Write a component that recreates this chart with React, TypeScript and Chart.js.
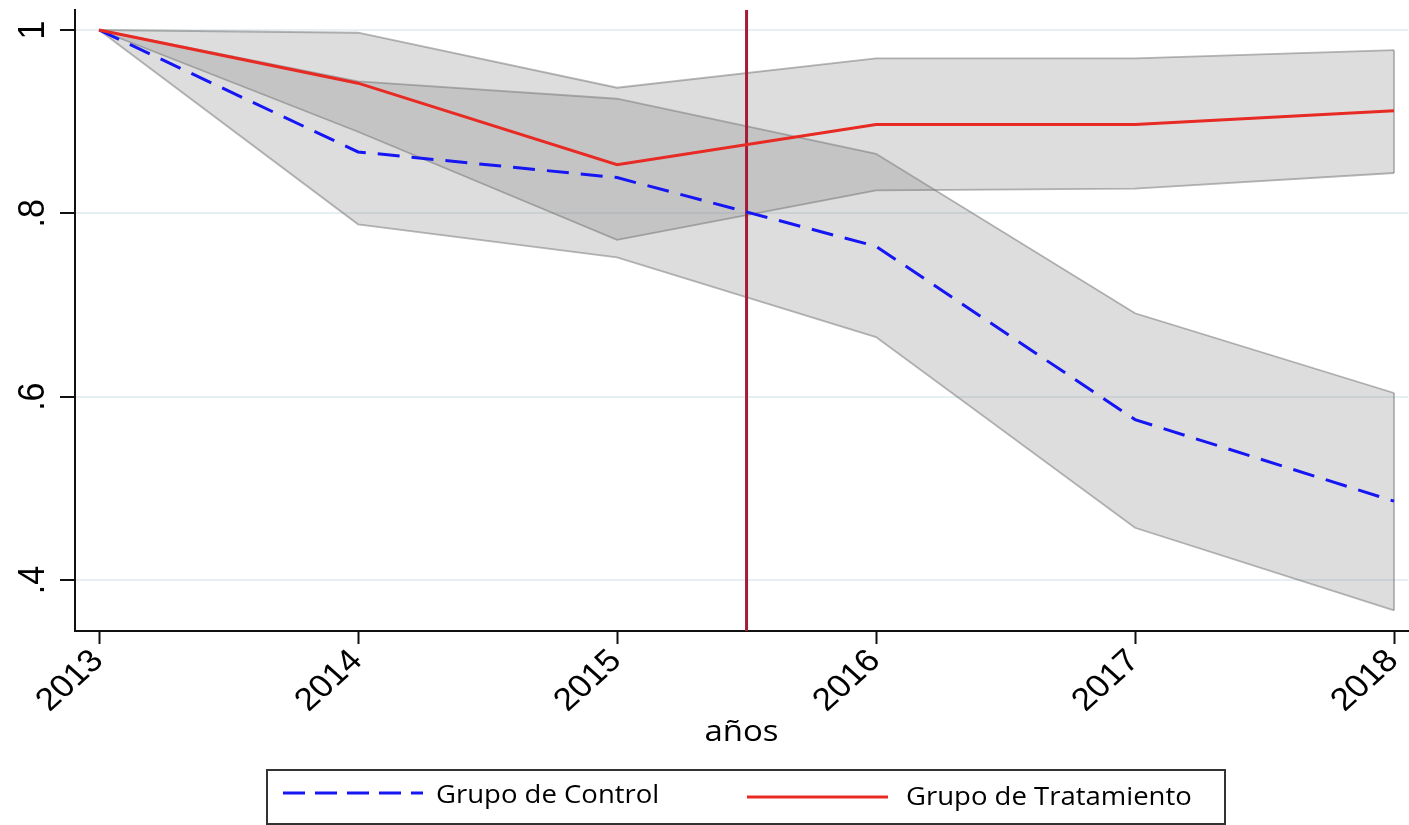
import React, { useEffect, useRef } from 'react';
import { Chart, registerables } from 'chart.js';

Chart.register(...registerables);

// ---- data ----
const years = [2013, 2014, 2015, 2016, 2017, 2018];
const controlMean = [1, 0.867, 0.839, 0.764, 0.575, 0.486];
const controlHi = [1, 0.944, 0.925, 0.865, 0.691, 0.604];
const controlLo = [1, 0.788, 0.752, 0.665, 0.457, 0.367];
const treatMean = [1, 0.942, 0.853, 0.897, 0.897, 0.912];
const treatHi = [1, 0.997, 0.937, 0.969, 0.969, 0.978];
const treatLo = [1, 0.889, 0.771, 0.825, 0.827, 0.844];
const interventionYear = 2015.5;
const yTickValues = [0.4, 0.6, 0.8, 1];
const yTickLabels = ['.4', '.6', '.8', '1'];
const xTickLabels = ['2013', '2014', '2015', '2016', '2017', '2018'];
const xTitle = 'años';
const legendLabels = ['Grupo de Control', 'Grupo de Tratamiento'];
const yRange = [0.3444, 1.0218];
const xRange = [2012.907, 2018.054];

const pts = (vals: number[]) => years.map((yr, i) => ({ x: yr, y: vals[i] }));

const BAND_FILL = 'rgba(128,128,128,0.27)';
const BAND_EDGE = 'rgba(110,110,110,0.5)';
const RED = 'rgb(232,42,36)';
const BLUE = 'rgb(22,22,245)';
const VLINE = 'rgb(165,28,58)';
const STRETCH = 1.1;

const textPlugin = {
  id: 'customText',
  afterDraw(chart: any) {
    const ctx = chart.ctx as CanvasRenderingContext2D;
    const xs = chart.scales.x;
    const ys = chart.scales.y;
    const area = chart.chartArea;
    ctx.save();
    ctx.fillStyle = '#000';

    // y tick labels (vertical)
    ctx.font = '34px "Liberation Sans", Arial, sans-serif';
    yTickValues.forEach((v, i) => {
      const py = ys.getPixelForValue(v);
      ctx.save();
      ctx.translate(31, py);
      ctx.scale(STRETCH, 1);
      ctx.rotate(-Math.PI / 2);
      ctx.textAlign = 'center';
      ctx.textBaseline = 'middle';
      ctx.fillText(yTickLabels[i], 0, 2);
      ctx.restore();
    });

    // x tick labels (45 degrees)
    ctx.font = '32px "Liberation Sans", Arial, sans-serif';
    years.forEach((yr, i) => {
      const px = xs.getPixelForValue(yr);
      ctx.save();
      ctx.translate(px - 1, area.bottom + 25);
      ctx.scale(STRETCH, 1);
      ctx.rotate(-Math.PI / 4);
      ctx.textAlign = 'right';
      ctx.textBaseline = 'middle';
      ctx.fillText(xTickLabels[i], 0, 0);
      ctx.restore();
    });

    // axis title
    ctx.font = '30px "Open Sans", sans-serif';
    ctx.save();
    ctx.translate((area.left + area.right) / 2, 741);
    ctx.scale(STRETCH, 1);
    ctx.textAlign = 'center';
    ctx.textBaseline = 'alphabetic';
    ctx.fillText(xTitle, 0, 0);
    ctx.restore();

    // legend box
    ctx.strokeStyle = '#333';
    ctx.lineWidth = 2;
    ctx.strokeRect(267, 770, 958, 54);

    // control key
    ctx.save();
    ctx.strokeStyle = BLUE;
    ctx.lineWidth = 2.8;
    ctx.setLineDash([22, 10]);
    ctx.beginPath();
    ctx.moveTo(283, 793);
    ctx.lineTo(423, 793);
    ctx.stroke();
    ctx.restore();
    // treatment key
    ctx.save();
    ctx.strokeStyle = RED;
    ctx.lineWidth = 2.8;
    ctx.beginPath();
    ctx.moveTo(747, 797);
    ctx.lineTo(888, 797);
    ctx.stroke();
    ctx.restore();

    ctx.font = '25px "Open Sans", sans-serif';
    ctx.textAlign = 'left';
    ctx.textBaseline = 'alphabetic';
    ctx.save();
    ctx.translate(436, 803);
    ctx.scale(STRETCH, 1);
    ctx.fillText(legendLabels[0], 0, 0);
    ctx.restore();
    ctx.save();
    ctx.translate(906, 805);
    ctx.scale(STRETCH, 1);
    ctx.fillText(legendLabels[1], 0, 0);
    ctx.restore();

    ctx.restore();
  },
};

export default function App() {
  const ref = useRef<HTMLCanvasElement | null>(null);

  useEffect(() => {
    if (!ref.current) return;
    const last = years.length - 1;
    const chart = new Chart(ref.current, {
      type: 'line',
      data: {
        datasets: [
          {
            label: legendLabels[1],
            data: pts(treatMean),
            borderColor: RED,
            borderWidth: 3,
            pointRadius: 0,
            fill: false,
            order: 0,
          },
          {
            label: legendLabels[0],
            data: pts(controlMean),
            borderColor: BLUE,
            borderWidth: 3,
            borderDash: [22, 12],
            pointRadius: 0,
            fill: false,
            order: 1,
          },
          {
            label: 'intervención',
            data: [
              { x: interventionYear, y: yRange[0] },
              { x: interventionYear, y: yRange[1] },
            ],
            borderColor: VLINE,
            borderWidth: 3,
            pointRadius: 0,
            fill: false,
            order: 2,
          },
          {
            label: 'T hi',
            data: pts(treatHi),
            borderColor: BAND_EDGE,
            borderWidth: 1.8,
            backgroundColor: BAND_FILL,
            pointRadius: 0,
            fill: '+1',
            order: 3,
          },
          {
            label: 'T lo',
            data: pts(treatLo),
            borderColor: BAND_EDGE,
            borderWidth: 1.8,
            pointRadius: 0,
            fill: false,
            order: 4,
          },
          {
            label: 'C hi',
            data: pts(controlHi),
            borderColor: BAND_EDGE,
            borderWidth: 1.8,
            backgroundColor: BAND_FILL,
            pointRadius: 0,
            fill: '+1',
            order: 5,
          },
          {
            label: 'C lo',
            data: pts(controlLo),
            borderColor: BAND_EDGE,
            borderWidth: 1.8,
            pointRadius: 0,
            fill: false,
            order: 6,
          },
          {
            label: 'T edge',
            data: [
              { x: years[last], y: treatLo[last] },
              { x: years[last], y: treatHi[last] },
            ],
            borderColor: BAND_EDGE,
            borderWidth: 1.8,
            pointRadius: 0,
            fill: false,
            order: 7,
          },
          {
            label: 'C edge',
            data: [
              { x: years[last], y: controlLo[last] },
              { x: years[last], y: controlHi[last] },
            ],
            borderColor: BAND_EDGE,
            borderWidth: 1.8,
            pointRadius: 0,
            fill: false,
            order: 8,
          },
        ],
      },
      options: {
        responsive: false,
        devicePixelRatio: 1,
        animation: false,
        layout: { padding: { left: 0, right: 1, top: 10, bottom: 74 } },
        plugins: {
          legend: { display: false },
          tooltip: { enabled: false },
        },
        elements: { line: { tension: 0 } },
        scales: {
          x: {
            type: 'linear',
            min: xRange[0],
            max: xRange[1],
            afterBuildTicks: (scale: any) => {
              scale.ticks = years.map((v) => ({ value: v }));
            },
            afterFit: (scale: any) => {
              scale.height = 120;
            },
            ticks: { display: false },
            grid: {
              drawOnChartArea: false,
              drawTicks: true,
              tickLength: 13,
              tickColor: '#111',
              tickWidth: 2,
            },
            border: { display: true, color: '#111', width: 2 },
          },
          y: {
            type: 'linear',
            min: yRange[0],
            max: yRange[1],
            afterBuildTicks: (scale: any) => {
              scale.ticks = yTickValues.map((v) => ({ value: v }));
            },
            afterFit: (scale: any) => {
              scale.width = 75;
            },
            ticks: { display: false },
            grid: {
              color: '#e6eff1',
              lineWidth: 2,
              drawTicks: true,
              tickLength: 15,
              tickColor: '#111',
              tickWidth: 2,
            },
            border: { display: true, color: '#111', width: 2 },
          },
        },
      },
      plugins: [textPlugin],
    } as any);
    return () => chart.destroy();
  }, []);

  return (
    <div style={{ position: 'absolute', left: 0, top: 0, width: 1409, height: 825, background: '#fff' }}>
      <canvas ref={ref} width={1409} height={825} style={{ display: 'block' }} />
    </div>
  );
}
